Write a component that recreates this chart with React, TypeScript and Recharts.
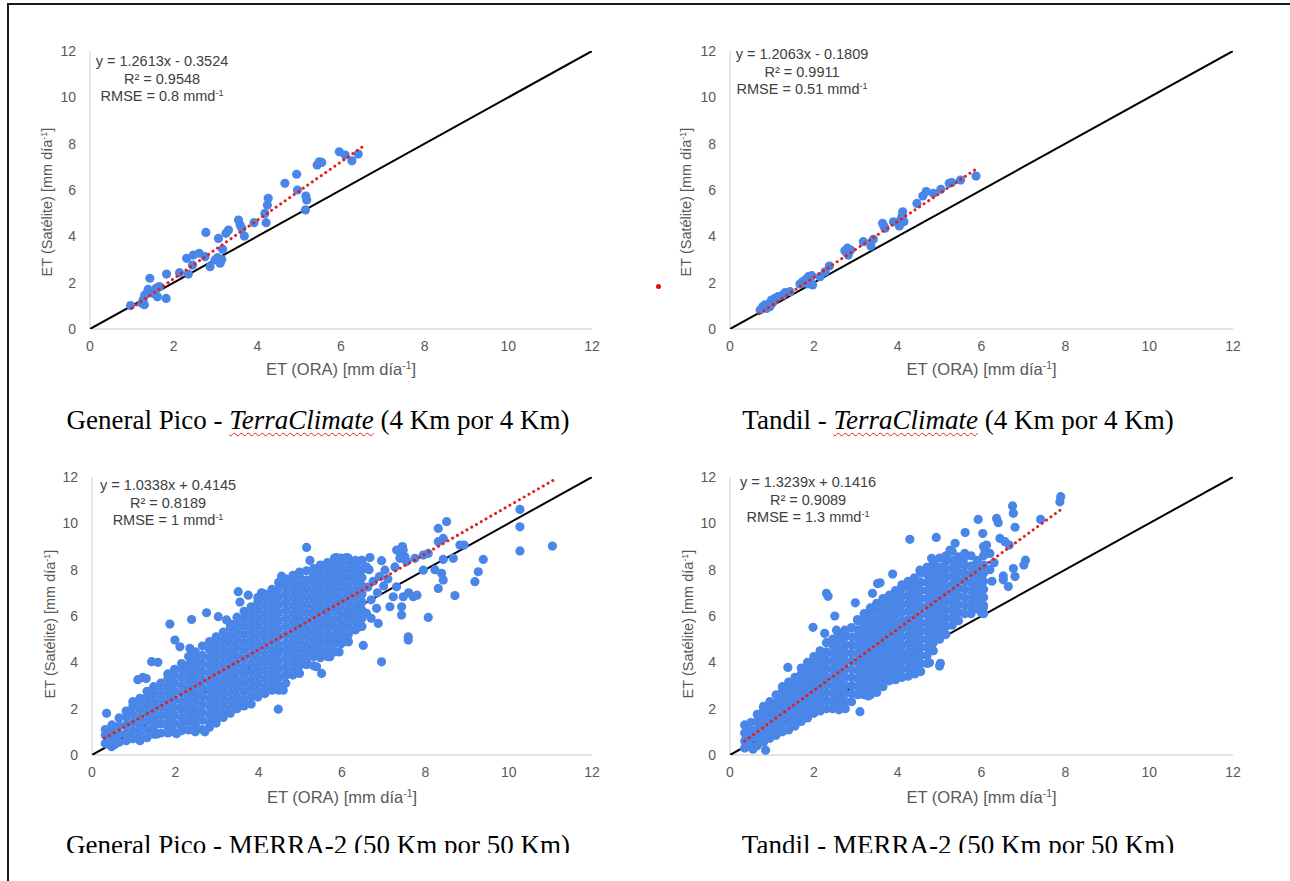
import React from 'react';
import { ScatterChart, Scatter, XAxis, YAxis } from 'recharts';

type Pt = [number, number];

const axisTicks = [0, 2, 4, 6, 8, 10, 12];
const identitySegment = [
  { x: 0, y: 0 },
  { x: 12, y: 12 },
];

// General Pico - TerraClimate
const gpTerraPoints: Pt[] = [
  [0.97, 1.01], [1.24, 1.11], [1.27, 1.25], [1.31, 1.47], [1.39, 1.71], [1.43, 2.19], [1.5, 1.54],
  [1.58, 1.76], [1.61, 1.39], [1.66, 1.83], [1.82, 1.32], [1.83, 2.37], [2.14, 2.43], [2.35, 2.37],
  [2.31, 3.05], [2.47, 3.19], [2.45, 2.76], [2.61, 3.27], [2.75, 3.12], [2.77, 4.17], [2.87, 2.69],
  [2.99, 2.98], [3.07, 3.91], [3.11, 2.84], [3.17, 3.44], [3.25, 4.13], [3.31, 4.27], [3.55, 4.7],
  [3.59, 4.49], [3.63, 4.35], [3.69, 4.01], [3.92, 4.59], [4.21, 4.59], [4.18, 4.99], [4.24, 5.35],
  [4.26, 5.64], [4.66, 6.29], [4.94, 6.68], [4.96, 6.0], [5.16, 5.74], [5.18, 5.57], [5.15, 5.14],
  [5.43, 7.08], [5.48, 7.22], [5.54, 7.19], [5.96, 7.65], [6.1, 7.51], [6.26, 7.26], [6.41, 7.55],
  [1.3, 1.05], [1.55, 1.65], [3.05, 3.08], [3.15, 3.0], [1.45, 1.6],
];

// Tandil - TerraClimate
const tdTerraPoints: Pt[] = [
  [0.72, 0.82], [0.78, 0.96], [0.83, 1.04], [0.87, 0.89], [0.94, 1.11], [0.99, 1.25], [0.95, 0.96],
  [1.03, 1.18], [1.07, 1.32], [1.15, 1.4], [1.26, 1.47], [1.31, 1.57], [1.43, 1.61], [1.67, 1.94],
  [1.73, 2.04], [1.81, 2.14], [1.87, 2.26], [1.91, 2.12], [1.97, 1.9], [2.15, 2.26], [2.27, 2.47],
  [2.37, 2.72], [2.74, 3.38], [2.8, 3.49], [2.88, 3.41], [2.82, 3.19], [3.18, 3.77], [3.36, 3.58],
  [3.42, 3.87], [3.64, 4.56], [3.7, 4.35], [3.9, 4.63], [4.04, 4.45], [4.07, 4.71], [4.12, 5.06],
  [4.15, 4.63], [4.46, 5.42], [4.6, 5.74], [4.68, 5.93], [4.85, 5.86], [5.03, 6.03], [5.23, 6.29],
  [5.29, 6.32], [5.5, 6.43], [5.87, 6.6], [0.9, 1.0], [1.0, 1.1], [1.85, 1.95], [2.78, 3.3],
  [3.67, 4.45], [4.1, 4.85], [1.95, 2.3],
];

// General Pico - MERRA-2 (dense core read column by column, then sparse points)
const gpMerraColumns: [number, number[]][] = [
  [0.32, [0.5, 0.85, 1.1]],
  [0.48, [0.42, 0.75, 1.05, 1.3]],
  [0.65, [0.55, 0.9, 1.25, 1.6]],
  [0.82, [0.62, 0.95, 1.3, 1.65, 1.9]],
  [0.98, [0.7, 1.05, 1.4, 1.75, 2.1, 2.3]],
  [1.15, [0.68, 0.9, 1.25, 1.6, 1.95, 2.3, 2.45]],
  [1.32, [0.75, 1.1, 1.45, 1.8, 2.15, 2.5, 2.75]],
  [1.48, [0.9, 1.2, 1.55, 1.9, 2.25, 2.6, 2.95]],
  [1.65, [0.95, 1.35, 1.7, 2.05, 2.4, 2.75, 3.1]],
  [1.82, [0.95, 1.2, 1.55, 1.9, 2.25, 2.6, 2.95, 3.3, 3.5]],
  [1.98, [0.98, 1.35, 1.7, 2.05, 2.4, 2.75, 3.1, 3.45, 3.7]],
  [2.15, [1.05, 1.25, 1.6, 1.95, 2.3, 2.65, 3.0, 3.35, 3.7, 3.95]],
  [2.32, [1.08, 1.45, 1.8, 2.15, 2.5, 2.85, 3.2, 3.55, 3.9, 4.25]],
  [2.48, [1.0, 1.3, 1.65, 2.0, 2.35, 2.7, 3.05, 3.4, 3.75, 4.1, 4.45]],
  [2.65, [1.1, 1.5, 1.85, 2.2, 2.55, 2.9, 3.25, 3.6, 3.95, 4.3, 4.7]],
  [2.82, [1.2, 1.4, 1.75, 2.1, 2.45, 2.8, 3.15, 3.5, 3.85, 4.2, 4.55, 4.9]],
  [2.98, [1.38, 1.6, 1.95, 2.3, 2.65, 3.0, 3.35, 3.7, 4.05, 4.4, 4.75, 5.1]],
  [3.15, [1.62, 1.8, 2.15, 2.5, 2.85, 3.2, 3.55, 3.9, 4.25, 4.6, 4.95, 5.3]],
  [3.32, [1.8, 2.0, 2.35, 2.7, 3.05, 3.4, 3.75, 4.1, 4.45, 4.8, 5.15, 5.5, 5.65]],
  [3.48, [2.0, 2.2, 2.55, 2.9, 3.25, 3.6, 3.95, 4.3, 4.65, 5.0, 5.35, 5.7, 5.95]],
  [3.65, [2.12, 2.4, 2.75, 3.1, 3.45, 3.8, 4.15, 4.5, 4.85, 5.2, 5.55, 5.9, 6.2]],
  [3.82, [2.2, 2.55, 2.9, 3.25, 3.6, 3.95, 4.3, 4.65, 5.0, 5.35, 5.7, 6.05, 6.4]],
  [3.98, [2.5, 2.75, 3.1, 3.45, 3.8, 4.15, 4.5, 4.85, 5.2, 5.55, 5.9, 6.25, 6.6, 6.8]],
  [4.15, [2.65, 2.95, 3.3, 3.65, 4.0, 4.35, 4.7, 5.05, 5.4, 5.75, 6.1, 6.45, 6.8, 6.95]],
  [4.32, [2.8, 3.15, 3.5, 3.85, 4.2, 4.55, 4.9, 5.25, 5.6, 5.95, 6.3, 6.65, 7.0, 7.15]],
  [4.48, [2.8, 3.0, 3.35, 3.7, 4.05, 4.4, 4.75, 5.1, 5.45, 5.8, 6.15, 6.5, 6.85, 7.2, 7.45]],
  [4.65, [3.1, 3.45, 3.8, 4.15, 4.5, 4.85, 5.2, 5.55, 5.9, 6.25, 6.6, 6.95, 7.3, 7.6]],
  [4.82, [3.45, 3.65, 4.0, 4.35, 4.7, 5.05, 5.4, 5.75, 6.1, 6.45, 6.8, 7.15, 7.5, 7.75]],
  [4.98, [3.52, 3.85, 4.2, 4.55, 4.9, 5.25, 5.6, 5.95, 6.3, 6.65, 7.0, 7.35, 7.7, 7.9]],
  [5.15, [3.9, 4.05, 4.4, 4.75, 5.1, 5.45, 5.8, 6.15, 6.5, 6.85, 7.2, 7.55, 7.95]],
  [5.32, [3.85, 4.25, 4.6, 4.95, 5.3, 5.65, 6.0, 6.35, 6.7, 7.05, 7.4, 7.75, 8.05]],
  [5.48, [4.2, 4.45, 4.8, 5.15, 5.5, 5.85, 6.2, 6.55, 6.9, 7.25, 7.6, 7.95, 8.2]],
  [5.65, [4.25, 4.6, 4.95, 5.3, 5.65, 6.0, 6.35, 6.7, 7.05, 7.4, 7.75, 8.1, 8.3]],
  [5.82, [4.45, 4.8, 5.15, 5.5, 5.85, 6.2, 6.55, 6.9, 7.25, 7.6, 7.95, 8.3, 8.5]],
  [5.98, [4.8, 5.0, 5.35, 5.7, 6.05, 6.4, 6.75, 7.1, 7.45, 7.8, 8.15, 8.5]],
  [6.15, [4.9, 5.2, 5.55, 5.9, 6.25, 6.6, 6.95, 7.3, 7.65, 8.0, 8.35, 8.5]],
  [6.32, [5.4, 5.75, 6.1, 6.45, 6.8, 7.15, 7.5, 7.85, 8.2, 8.4]],
  [6.48, [5.55, 5.9, 6.25, 6.6, 6.95, 7.3, 7.65, 8.0, 8.4]],
];
const gpMerraSparse: Pt[] = [
  [0.35, 1.8], [1.1, 3.25], [1.22, 3.35], [1.3, 3.3], [1.43, 4.03], [1.58, 4.0], [1.87, 5.65],
  [1.99, 4.96], [2.11, 4.67], [2.35, 4.6], [2.39, 5.85], [2.75, 6.14], [3.03, 5.97], [3.23, 5.83],
  [3.51, 7.05], [3.55, 6.6], [3.75, 6.9], [4.07, 7.0], [4.55, 7.72], [0.47, 0.36], [0.55, 0.45],
  [1.15, 0.62], [1.55, 0.9], [2.03, 0.92], [2.71, 1.0], [4.47, 1.98], [4.59, 2.8], [4.83, 3.52],
  [5.07, 3.95], [5.39, 3.81], [5.51, 3.52], [5.71, 4.24], [5.93, 4.45], [6.15, 4.88], [6.51, 4.73],
  [6.87, 5.68], [6.95, 4.02], [7.59, 5.1], [7.59, 4.96], [7.43, 6.04], [8.07, 5.94], [5.15, 8.96],
  [5.23, 8.4], [5.87, 8.52], [6.11, 8.52], [6.27, 8.12], [6.47, 8.4], [6.67, 8.52], [6.95, 8.39],
  [7.03, 7.98], [6.59, 8.12], [7.31, 8.85], [7.47, 8.85], [7.39, 8.49], [7.51, 8.56], [7.27, 8.12],
  [7.4, 8.7], [7.45, 9.0], [7.55, 8.35], [7.75, 8.49], [7.95, 8.63], [8.07, 8.7], [8.31, 9.78],
  [8.51, 10.07], [8.43, 9.35], [8.31, 9.21], [8.83, 9.06], [8.93, 9.06], [8.67, 8.49], [9.39, 8.44],
  [10.27, 10.6], [10.27, 9.85], [10.27, 8.81], [11.05, 9.02], [8.43, 8.44], [8.23, 8.0], [7.95, 7.98],
  [8.39, 7.84], [8.43, 7.55], [8.31, 7.19], [8.71, 6.88], [9.27, 7.91], [9.19, 7.48], [7.23, 6.83],
  [7.31, 7.26], [7.47, 6.83], [7.71, 6.83], [7.15, 6.4], [7.43, 6.4], [6.83, 6.33], [6.59, 6.11],
  [6.43, 5.54], [6.19, 5.9], [6.35, 6.26], [6.7, 6.7], [6.85, 7.0], [7.0, 7.3], [6.75, 7.5],
  [6.9, 7.7], [7.1, 7.6], [6.65, 8.0], [7.6, 7.0], [7.8, 6.9], [6.7, 5.9], [6.62, 7.25],
];

// Tandil - MERRA-2
const tdMerraColumns: [number, number[]][] = [
  [0.35, [0.3, 0.6, 0.95, 1.3]],
  [0.5, [0.35, 0.7, 1.05, 1.4]],
  [0.65, [0.4, 0.75, 1.1, 1.45, 1.75]],
  [0.8, [0.55, 0.9, 1.25, 1.6, 1.95, 2.1]],
  [0.95, [0.72, 1.05, 1.4, 1.75, 2.1, 2.3]],
  [1.1, [0.85, 1.2, 1.55, 1.9, 2.25, 2.6]],
  [1.25, [1.0, 1.35, 1.7, 2.05, 2.4, 2.75, 2.95]],
  [1.4, [1.08, 1.45, 1.8, 2.15, 2.5, 2.85, 3.15]],
  [1.55, [1.25, 1.6, 1.95, 2.3, 2.65, 3.0, 3.35]],
  [1.7, [1.45, 1.8, 2.15, 2.5, 2.85, 3.2, 3.5, 3.75]],
  [1.85, [1.6, 1.95, 2.3, 2.65, 3.0, 3.35, 3.7, 4.0]],
  [2.0, [1.8, 2.15, 2.5, 2.85, 3.2, 3.55, 3.9, 4.25]],
  [2.15, [1.9, 2.25, 2.6, 2.95, 3.3, 3.65, 4.0, 4.35, 4.5]],
  [2.3, [2.0, 2.35, 2.7, 3.05, 3.4, 3.75, 4.1, 4.45, 4.85]],
  [2.45, [2.0, 2.3, 2.65, 3.0, 3.35, 3.7, 4.05, 4.4, 4.75, 5.0]],
  [2.6, [2.1, 2.45, 2.8, 3.15, 3.5, 3.85, 4.2, 4.55, 4.9, 5.2]],
  [2.75, [2.0, 2.3, 2.65, 3.0, 3.35, 3.7, 4.05, 4.4, 4.75, 5.1, 5.35]],
  [2.9, [2.3, 2.65, 3.0, 3.35, 3.7, 4.05, 4.4, 4.75, 5.1, 5.5]],
  [3.05, [2.6, 2.95, 3.3, 3.65, 4.0, 4.35, 4.7, 5.05, 5.4, 5.8]],
  [3.2, [2.6, 2.8, 3.15, 3.5, 3.85, 4.2, 4.55, 4.9, 5.25, 5.6, 5.95, 6.1]],
  [3.35, [2.6, 2.95, 3.3, 3.65, 4.0, 4.35, 4.7, 5.05, 5.4, 5.75, 6.1, 6.35]],
  [3.5, [2.7, 3.05, 3.4, 3.75, 4.1, 4.45, 4.8, 5.15, 5.5, 5.85, 6.2, 6.55]],
  [3.65, [2.95, 3.3, 3.65, 4.0, 4.35, 4.7, 5.05, 5.4, 5.75, 6.1, 6.45, 6.75]],
  [3.8, [3.2, 3.5, 3.85, 4.2, 4.55, 4.9, 5.25, 5.6, 5.95, 6.3, 6.65, 6.9]],
  [3.95, [3.25, 3.6, 3.95, 4.3, 4.65, 5.0, 5.35, 5.7, 6.05, 6.4, 6.75, 7.1]],
  [4.1, [3.35, 3.7, 4.05, 4.4, 4.75, 5.1, 5.45, 5.8, 6.15, 6.5, 6.85, 7.2, 7.35]],
  [4.25, [3.4, 3.75, 4.1, 4.45, 4.8, 5.15, 5.5, 5.85, 6.2, 6.55, 6.9, 7.25, 7.5]],
  [4.4, [3.5, 3.85, 4.2, 4.55, 4.9, 5.25, 5.6, 5.95, 6.3, 6.65, 7.0, 7.35, 7.65]],
  [4.55, [3.6, 3.95, 4.3, 4.65, 5.0, 5.35, 5.7, 6.05, 6.4, 6.75, 7.1, 7.45, 7.85]],
  [4.7, [3.95, 4.3, 4.65, 5.0, 5.35, 5.7, 6.05, 6.4, 6.75, 7.1, 7.45, 7.8, 8.1]],
  [4.85, [4.5, 4.85, 5.2, 5.55, 5.9, 6.25, 6.6, 6.95, 7.3, 7.65, 8.0, 8.3]],
  [5.0, [5.0, 5.3, 5.65, 6.0, 6.35, 6.7, 7.05, 7.4, 7.75, 8.1, 8.5]],
  [5.15, [5.2, 5.55, 5.9, 6.25, 6.6, 6.95, 7.3, 7.65, 8.0, 8.35, 8.6]],
  [5.3, [5.6, 5.95, 6.3, 6.65, 7.0, 7.35, 7.7, 8.05, 8.4, 8.8]],
  [5.45, [5.8, 6.15, 6.5, 6.85, 7.2, 7.55, 7.9, 8.25, 8.55]],
  [5.6, [6.1, 6.45, 6.8, 7.15, 7.5, 7.85, 8.2, 8.55, 8.7]],
  [5.75, [6.1, 6.4, 6.75, 7.1, 7.45, 7.8, 8.15, 8.6]],
  [5.9, [6.3, 6.65, 7.0, 7.35, 7.7, 8.05, 8.4]],
  [6.05, [6.1, 6.45, 6.8, 7.15, 7.5, 7.85, 8.2, 8.6, 9.0]],
];
const tdMerraSparse: Pt[] = [
  [0.85, 0.2], [0.55, 0.25], [1.38, 3.78], [1.98, 5.51], [2.26, 5.25], [2.3, 6.98], [2.34, 6.85],
  [2.5, 6.0], [2.54, 5.39], [2.74, 5.39], [2.99, 6.57], [3.04, 5.85], [3.4, 6.98], [3.52, 7.4],
  [3.1, 1.87], [3.58, 7.43], [3.88, 7.81], [4.29, 9.31], [4.92, 9.39], [5.25, 8.85], [5.61, 9.6],
  [5.37, 9.14], [5.92, 10.17], [6.03, 9.56], [6.36, 10.21], [6.4, 10.03], [6.74, 10.75],
  [6.76, 10.43], [6.8, 9.83], [7.41, 10.17], [7.89, 11.15], [7.87, 10.93], [6.44, 9.35],
  [6.56, 9.21], [6.66, 9.06], [6.2, 8.7], [6.12, 9.06], [7.05, 8.41], [7.01, 8.2], [6.76, 8.05],
  [6.8, 7.7], [6.52, 7.73], [6.52, 7.56], [6.64, 7.27], [6.0, 6.14], [6.04, 6.33], [4.76, 3.98],
  [5.0, 3.84], [5.02, 3.96], [4.42, 3.52], [4.14, 4.1], [4.53, 7.98], [4.81, 8.49], [5.49, 8.41],
  [5.88, 8.27], [6.08, 8.85], [6.25, 7.5], [6.2, 8.0], [6.3, 8.3], [2.6, 1.95], [3.3, 2.55],
];

const gpTerraFit = { slope: 1.2613, intercept: -0.3524, xMin: 1.0, xMax: 6.5 };
const tdTerraFit = { slope: 1.2063, intercept: -0.1809, xMin: 0.7, xMax: 5.9 };
const gpMerraFit = { slope: 1.0338, intercept: 0.4145, xMin: 0.3, xMax: 11.1 };
const tdMerraFit = { slope: 1.3239, intercept: 0.1416, xMin: 0.35, xMax: 7.95 };

const fitLabels = [
  { eq: 'y = 1.2613x - 0.3524', r2: '0.9548', rmse: '0.8' },
  { eq: 'y = 1.2063x - 0.1809', r2: '0.9911', rmse: '0.51' },
  { eq: 'y = 1.0338x + 0.4145', r2: '0.8189', rmse: '1' },
  { eq: 'y = 1.3239x + 0.1416', r2: '0.9089', rmse: '1.3' },
];

const FONT = '"Liberation Sans", Arial, sans-serif';
const SERIF = '"Liberation Serif", "Times New Roman", serif';
const BLUE = '#4a86e8';

const toPts = (arr: Pt[]) => arr.map(([x, y]) => ({ x, y }));
const fromColumns = (cols: [number, number[]][]) =>
  cols.flatMap(([x, ys]) => ys.map((y) => ({ x, y })));

function Dot(props: any) {
  const { cx, cy } = props;
  if (cx == null || cy == null) return <g />;
  return <circle cx={cx} cy={cy} r={4.6} fill={BLUE} />;
}
const NoShape = () => <g />;

function XTick(props: any) {
  const { x, y, payload } = props;
  return (
    <text x={x} y={y} dy="0.75em" textAnchor="middle" fill="#595959" fontSize={14} fontFamily={FONT}>
      {payload.value}
    </text>
  );
}
function YTick(props: any) {
  const { x, y, payload } = props;
  return (
    <text x={x} y={y} dy="0.36em" textAnchor="end" fill="#595959" fontSize={14} fontFamily={FONT}>
      {payload.value}
    </text>
  );
}

const Sup = ({ children }: { children: React.ReactNode }) => (
  <span style={{ fontSize: '0.62em', position: 'relative', top: '-0.6em' }}>{children}</span>
);

type PanelProps = {
  plotLeft: number;
  plotTop: number;
  plotW: number;
  plotH: number;
  data: { x: number; y: number }[];
  fit: { slope: number; intercept: number; xMin: number; xMax: number };
  label: { eq: string; r2: string; rmse: string };
  annX: number;
  annY: number;
  yTitleX: number;
  yTitleY: number;
  xTitleY: number;
};

function Panel(p: PanelProps) {
  const padL = 70;
  const padR = 20;
  const padT = 20;
  const padB = 40;
  const trend = [
    { x: p.fit.xMin, y: p.fit.slope * p.fit.xMin + p.fit.intercept },
    { x: p.fit.xMax, y: p.fit.slope * p.fit.xMax + p.fit.intercept },
  ];
  const xTitleX = p.plotLeft + p.plotW / 2;
  return (
    <>
      <div style={{ position: 'absolute', left: p.plotLeft - padL, top: p.plotTop - padT }}>
        <ScatterChart
          width={p.plotW + padL + padR}
          height={p.plotH + padT + padB}
          margin={{ top: padT, right: padR, bottom: padB - 30, left: padL - 50 }}
        >
          <XAxis
            type="number"
            dataKey="x"
            domain={[0, 12]}
            ticks={axisTicks}
            interval={0}
            height={30}
            axisLine={{ stroke: '#d9d9d9', strokeWidth: 1.3 }}
            tickLine={false}
            tickSize={0}
            tickMargin={11}
            tick={XTick}
            allowDataOverflow
          />
          <YAxis
            type="number"
            dataKey="y"
            domain={[0, 12]}
            ticks={axisTicks}
            interval={0}
            width={50}
            axisLine={{ stroke: '#d9d9d9', strokeWidth: 1.3 }}
            tickLine={false}
            tickSize={0}
            tickMargin={14}
            tick={YTick}
            allowDataOverflow
          />
          <Scatter
            data={identitySegment}
            line={{ stroke: '#000000', strokeWidth: 2 }}
            shape={NoShape}
            isAnimationActive={false}
          />
          <Scatter data={p.data} shape={Dot} isAnimationActive={false} />
          <Scatter
            data={trend}
            line={{ stroke: '#e0201c', strokeWidth: 3, strokeDasharray: '0.1 5.4', strokeLinecap: 'round' }}
            shape={NoShape}
            isAnimationActive={false}
          />
        </ScatterChart>
      </div>
      <div
        style={{
          position: 'absolute',
          left: p.annX - 120,
          top: p.annY,
          width: 240,
          textAlign: 'center',
          fontFamily: FONT,
          fontSize: 14.5,
          lineHeight: '17.5px',
          color: '#404040',
          whiteSpace: 'nowrap',
        }}
      >
        <div>{p.label.eq}</div>
        <div>R² = {p.label.r2}</div>
        <div>
          RMSE = {p.label.rmse} mmd<Sup>-1</Sup>
        </div>
      </div>
      <div
        style={{
          position: 'absolute',
          left: xTitleX - 150,
          top: p.xTitleY - 10,
          width: 300,
          textAlign: 'center',
          fontFamily: FONT,
          fontSize: 16.5,
          lineHeight: '20px',
          color: '#595959',
          whiteSpace: 'nowrap',
        }}
      >
        ET (ORA) [mm día<Sup>-1</Sup>]
      </div>
      <div
        style={{
          position: 'absolute',
          left: p.yTitleX - 150,
          top: p.yTitleY - 10,
          width: 300,
          height: 20,
          textAlign: 'center',
          fontFamily: FONT,
          fontSize: 14.5,
          lineHeight: '20px',
          color: '#595959',
          whiteSpace: 'nowrap',
          transform: 'rotate(-90deg)',
        }}
      >
        ET (Satélite) [mm día<Sup>-1</Sup>]
      </div>
    </>
  );
}

function Caption({ cx, cy, children, clipBottom }: { cx: number; cy: number; children: React.ReactNode; clipBottom?: number }) {
  const top = cy - 17;
  return (
    <div
      style={{
        position: 'absolute',
        left: cx - 320,
        top,
        width: 640,
        height: clipBottom ? clipBottom - top : 36,
        overflow: 'hidden',
        textAlign: 'center',
        fontFamily: SERIF,
        fontSize: 27,
        lineHeight: '34px',
        color: '#000',
        whiteSpace: 'nowrap',
      }}
    >
      {children}
    </div>
  );
}

const Wavy = ({ children }: { children: React.ReactNode }) => (
  <i
    style={{
      textDecorationLine: 'underline',
      textDecorationStyle: 'wavy',
      textDecorationColor: '#e02020',
      textDecorationThickness: '1px',
      textUnderlineOffset: '3px',
    }}
  >
    {children}
  </i>
);

export default function App() {
  return (
    <div
      style={{
        position: 'absolute',
        left: 0,
        top: 0,
        width: 1290,
        height: 881,
        background: '#ffffff',
        overflow: 'hidden',
      }}
    >
      <div
        style={{
          position: 'absolute',
          left: 7,
          top: 3,
          width: 1300,
          height: 900,
          borderTop: '2px solid #1a1a1a',
          borderLeft: '2px solid #1a1a1a',
        }}
      />
      <Panel
        plotLeft={90}
        plotTop={51}
        plotW={502}
        plotH={278}
        data={toPts(gpTerraPoints)}
        fit={gpTerraFit}
        label={fitLabels[0]}
        annX={162}
        annY={53}
        yTitleX={47}
        yTitleY={202}
        xTitleY={369}
      />
      <Panel
        plotLeft={730}
        plotTop={51}
        plotW={503}
        plotH={278}
        data={toPts(tdTerraPoints)}
        fit={tdTerraFit}
        label={fitLabels[1]}
        annX={802}
        annY={46}
        yTitleX={686}
        yTitleY={202}
        xTitleY={369}
      />
      <Panel
        plotLeft={92}
        plotTop={477}
        plotW={500}
        plotH={278}
        data={[...fromColumns(gpMerraColumns), ...toPts(gpMerraSparse)]}
        fit={gpMerraFit}
        label={fitLabels[2]}
        annX={168}
        annY={477}
        yTitleX={50}
        yTitleY={624}
        xTitleY={797}
      />
      <Panel
        plotLeft={730}
        plotTop={477}
        plotW={503}
        plotH={278}
        data={[...fromColumns(tdMerraColumns), ...toPts(tdMerraSparse)]}
        fit={tdMerraFit}
        label={fitLabels[3]}
        annX={808}
        annY={474}
        yTitleX={688}
        yTitleY={624}
        xTitleY={797}
      />
      <Caption cx={318} cy={420}>
        General Pico - <Wavy>TerraClimate</Wavy> (4 Km por 4 Km)
      </Caption>
      <Caption cx={958} cy={420}>
        Tandil - <Wavy>TerraClimate</Wavy> (4 Km por 4 Km)
      </Caption>
      <Caption cx={318} cy={845} clipBottom={853}>
        General Pico - MERRA-2 (50 Km por 50 Km)
      </Caption>
      <Caption cx={958} cy={845} clipBottom={853}>
        Tandil - MERRA-2 (50 Km por 50 Km)
      </Caption>
      <div
        style={{
          position: 'absolute',
          left: 655.5,
          top: 283.5,
          width: 5,
          height: 5,
          borderRadius: '50%',
          background: '#e01010',
        }}
      />
    </div>
  );
}
